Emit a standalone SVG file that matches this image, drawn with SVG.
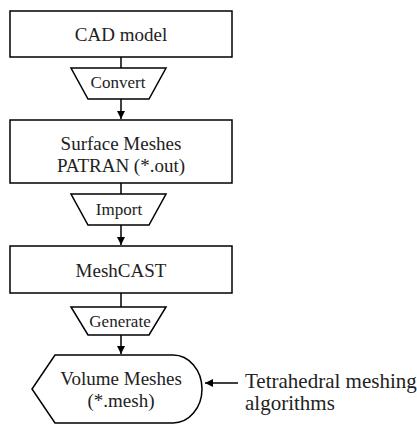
<svg xmlns="http://www.w3.org/2000/svg" width="417" height="424" viewBox="0 0 417 424">
<style>
.s{fill:#fff;stroke:#000;stroke-width:1.5}
text{font-family:'Liberation Serif','DejaVu Serif',serif;fill:#222}
.t{font-size:19px;text-anchor:middle}
.l{font-size:17px;text-anchor:middle}
.side{font-size:21px;text-anchor:start}
.c{stroke:#000;stroke-width:1.5;fill:none}
</style>
<defs>
<marker id="ah" markerWidth="8" markerHeight="8" refX="8" refY="4" orient="auto" markerUnits="userSpaceOnUse">
<path d="M0,0 L8,4 L0,8 Z" fill="#000"/>
</marker>
</defs>
<rect width="417" height="424" fill="#fff"/>
<g id="connectors">
<line class="c" x1="121" y1="57" x2="121" y2="68"/>
<line class="c" x1="121" y1="99" x2="121" y2="119" marker-end="url(#ah)"/>
<line class="c" x1="121" y1="183" x2="121" y2="194"/>
<line class="c" x1="121" y1="225" x2="121" y2="245" marker-end="url(#ah)"/>
<line class="c" x1="121" y1="293" x2="121" y2="307"/>
<line class="c" x1="121" y1="335" x2="121" y2="354" marker-end="url(#ah)"/>
<line class="c" x1="238" y1="383" x2="205" y2="383" marker-end="url(#ah)"/>
</g>
<g id="cad">
<rect class="s" x="10" y="11" width="222" height="46"/>
<text class="t" x="121" y="41">CAD model</text>
</g>
<g id="convert">
<polygon class="s" points="71,68 166,68 149,99 88,99"/>
<text class="l" x="118" y="88">Convert</text>
</g>
<g id="surface">
<rect class="s" x="10" y="120" width="222" height="63"/>
<text class="t" x="121" y="150">Surface Meshes</text>
<text class="t" x="121" y="172">PATRAN (*.out)</text>
</g>
<g id="import">
<polygon class="s" points="71,194 166,194 149,225 88,225"/>
<text class="l" x="119" y="215">Import</text>
</g>
<g id="meshcast">
<rect class="s" x="10" y="246" width="222" height="47"/>
<text class="t" x="121" y="277">MeshCAST</text>
</g>
<g id="generate">
<polygon class="s" points="71,307 166,307 149,335 88,335"/>
<text class="l" x="120" y="327">Generate</text>
</g>
<g id="volume">
<path class="s" d="M55,355 L173,355 A29,34 0 0 1 173,423 L55,423 L32,389 Z"/>
<text class="t" x="121" y="385">Volume Meshes</text>
<text class="t" x="121" y="407">(*.mesh)</text>
</g>
<g id="tetra">
<text class="side" x="245" y="388">Tetrahedral meshing</text>
<text class="side" x="245" y="410">algorithms</text>
</g>
</svg>
